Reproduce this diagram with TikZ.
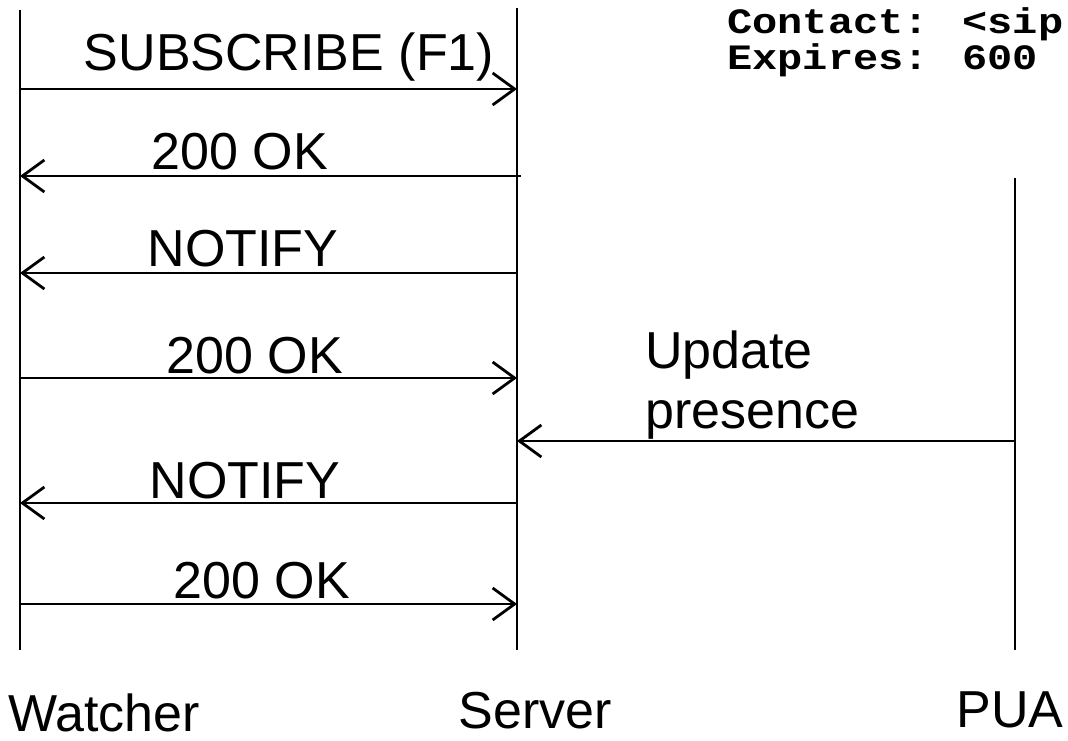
\documentclass[tikz,border=0pt]{standalone}
\usepackage{fontspec}
\setmainfont{Liberation Sans}
\newfontfamily\codefont{Liberation Mono}
\usetikzlibrary{arrows.meta}

\tikzset{
	lifeline/.style = {line width=1.6pt},
	msg/.style = {line width=2pt, -{Straight Barb[length=22pt,width=32pt,line width=2.8pt]}},
	msglabel/.style = {anchor=base, inner sep=0pt, font=\fontsize{52}{60}\selectfont},
	party/.style = {anchor=base, inner sep=0pt, font=\fontsize{52}{60}\selectfont},
	header/.style = {anchor=base west, inner sep=0pt, yscale=0.85, transform shape,
		font=\codefont\bfseries\fontsize{42}{42}\selectfont}
}

\begin{document}
\begin{tikzpicture}[x=1pt,y=-1pt]
				\useasboundingbox (0,0) rectangle (1068,740);
				% lifelines
				\coordinate (Wt) at (20,10);   \coordinate (Wb) at (20,650);
				\coordinate (St) at (517,8);   \coordinate (Sb) at (517,650);
				\coordinate (Pt) at (1015,178); \coordinate (Pb) at (1015,650);
				\draw[lifeline] (Wt) -- (Wb) (St) -- (Sb) (Pt) -- (Pb);
				
				% message end points
				\coordinate (W1) at (20,89);   \coordinate (S1) at (517,89);
				\coordinate (W2) at (20,176);  \coordinate (S2) at (521,176);
				\coordinate (W3) at (20,273);  \coordinate (S3) at (517,273);
				\coordinate (W4) at (20,378);  \coordinate (S4) at (517,378);
				\coordinate (S5) at (517,441); \coordinate (P5) at (1015,441);
				\coordinate (W6) at (20,503);  \coordinate (S6) at (517,503);
				\coordinate (W7) at (20,604);  \coordinate (S7) at (517,604);
				
				\draw[msg] (W1) -- (S1);
				\draw[msg] (S2) -- (W2);
				\draw[msg] (S3) -- (W3);
				\draw[msg] (W4) -- (S4);
				\draw[msg] (P5) -- (S5);
				\draw[msg] (S6) -- (W6);
				\draw[msg] (W7) -- (S7);
				
				\node[msglabel] (subscribe) at (289,70) {SUBSCRIBE (F1)};
				\node[msglabel] (ok1) at (240,169) {200 OK};
				\node[msglabel] (notify1) at (243,266) {NOTIFY};
				\node[msglabel] (ok2) at (255,373) {200 OK};
				\node[msglabel, anchor=base west] (update) at (645,368) {Update};
				\node[msglabel, anchor=base west] (presence) at (645,428) {presence};
				\node[msglabel] (notify2) at (245,498) {NOTIFY};
				\node[msglabel] (ok3) at (262,598) {200 OK};
				
				\node[party, anchor=base west] (watcher) at (8,731) {Watcher};
				\node[party] (server) at (535,728) {Server};
				\node[party] (pua) at (1010,727) {PUA};
				
				% header lines, cut by the right edge
				\node[header] (contact) at (727,33) {Contact: <sip};
				\node[header] (expires) at (727,69) {Expires: 600};
			\end{tikzpicture}
\end{document}
